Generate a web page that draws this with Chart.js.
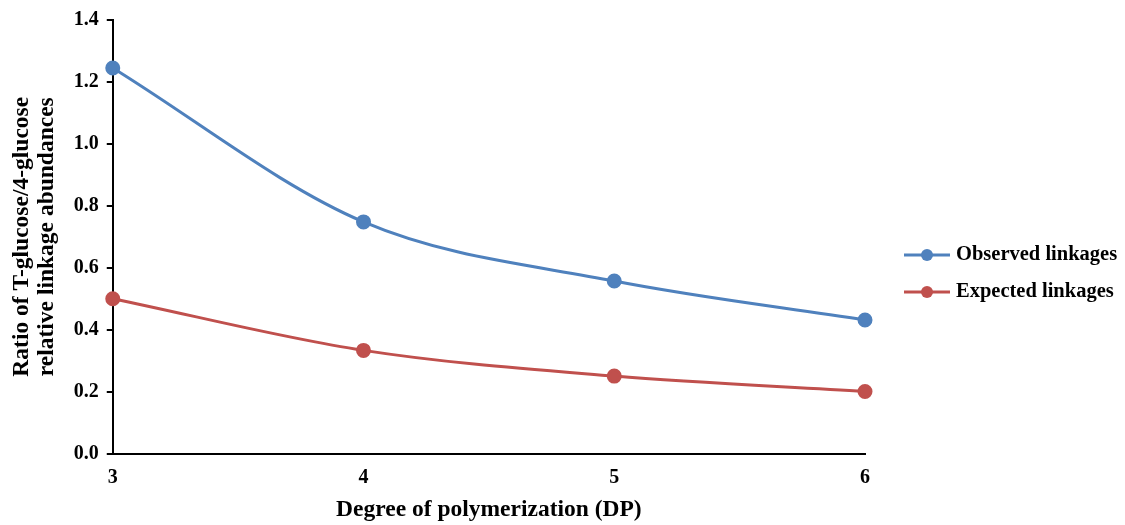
<!DOCTYPE html>
<html>
<head>
<meta charset="utf-8">
<script src="https://cdn.jsdelivr.net/npm/chart.js@4"></script>
<style>
  body { margin: 0; background: #fff; }
  canvas { display: block; }
</style>
</head>
<body>
<canvas id="dpChart" width="1125" height="525"></canvas>
<script>
// degree of polymerization
const dpLabels = ['3', '4', '5', '6'];
const observedData = [1.245, 0.748, 0.557, 0.431];
const expectedData = [0.5, 0.333, 0.25, 0.2];

const blue = '#4F81BD';
const red = '#C0504D';
const serif = '"Liberation Serif", "Times New Roman", serif';

// legend drawn by hand: line + dot, then bold label
const sideLegend = {
    id: 'sideLegend',
    afterDraw(chart) {
        const c = chart.ctx;
        const left = chart.chartArea.right + 39;
        const rows = [255, 292];
        c.save();
        chart.data.datasets.forEach(function(ds, i) {
            const y = rows[i];
            c.strokeStyle = ds.borderColor;
            c.lineWidth = 3;
            c.beginPath();
            c.moveTo(left, y);
            c.lineTo(left + 46, y);
            c.stroke();
            c.fillStyle = ds.borderColor;
            c.beginPath();
            c.arc(left + 23, y, 6, 0, Math.PI * 2);
            c.fill();
            c.fillStyle = '#000';
            c.font = 'bold 20.5px ' + serif;
            c.textBaseline = 'middle';
            c.fillText(ds.label, left + 52, y);
        });
        c.restore();
    }
};

const ctx = document.getElementById('dpChart').getContext('2d');
new Chart(ctx, {
    type: 'line',
    data: {
        labels: dpLabels,
        datasets: [{
            label: 'Observed linkages',
            data: observedData,
            borderColor: blue,
            backgroundColor: blue,
            borderWidth: 3,
            pointRadius: 6,
            cubicInterpolationMode: 'monotone'
        }, {
            label: 'Expected linkages',
            data: expectedData,
            borderColor: red,
            backgroundColor: red,
            borderWidth: 3,
            pointRadius: 6,
            cubicInterpolationMode: 'monotone'
        }]
    },
    plugins: [sideLegend],
    options: {
        responsive: false,
        animation: false,
        layout: { padding: { top: 19, right: 260, left: 9, bottom: 3 } },
        plugins: {
            tooltip: { enabled: false },
            legend: { display: false }
        },
        scales: {
            x: {
                offset: false,
                grid: { display: false },
                border: { display: true, color: '#000', width: 2 },
                ticks: {
                    color: '#000',
                    padding: 4,
                    font: { family: serif, size: 20, weight: 'bold' }
                },
                title: {
                    display: true,
                    text: 'Degree of polymerization (DP)',
                    color: '#000',
                    padding: { top: 5, bottom: 0 },
                    font: { family: serif, size: 23.5, weight: 'bold', lineHeight: 1.0 }
                }
            },
            y: {
                min: 0,
                max: 1.4,
                grid: { drawOnChartArea: false, drawTicks: true, tickLength: 6, color: '#000', lineWidth: 2 },
                border: { display: true, color: '#000', width: 2 },
                ticks: {
                    stepSize: 0.2,
                    color: '#000',
                    padding: 8,
                    font: { family: serif, size: 20, weight: 'bold' },
                    callback: function(v) { return v.toFixed(1); }
                },
                title: {
                    display: true,
                    text: ['Ratio of T-glucose/4-glucose', 'relative linkage abundances'],
                    color: '#000',
                    padding: { top: 0, bottom: 6 },
                    font: { family: serif, size: 23.5, weight: 'bold', lineHeight: 1.08 }
                }
            }
        }
    }
});
</script>
</body>
</html>
